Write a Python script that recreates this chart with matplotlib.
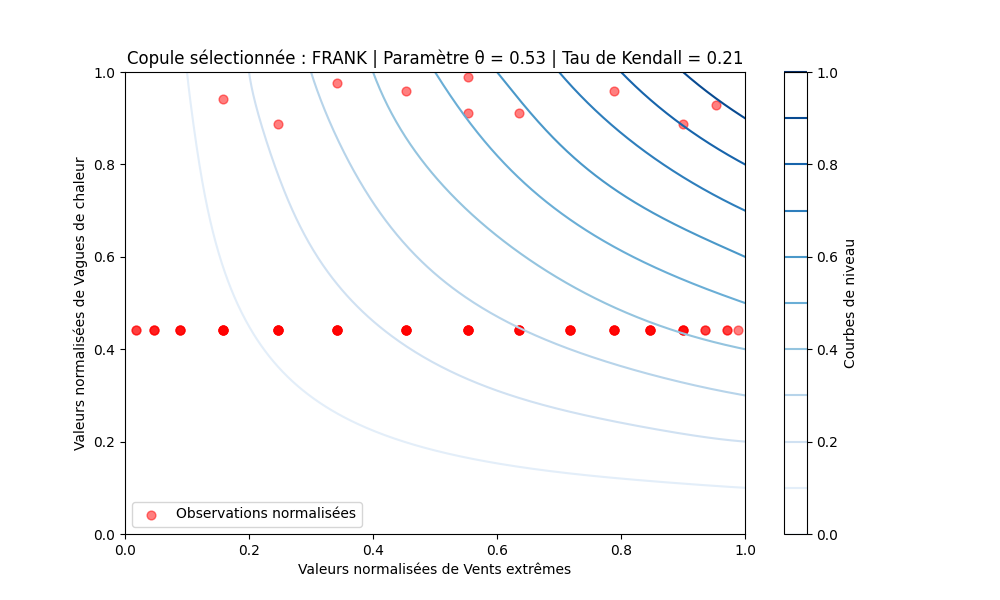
import numpy as np
import matplotlib
matplotlib.use("Agg")
import matplotlib.pyplot as plt
from matplotlib.cm import ScalarMappable
from matplotlib.colors import Normalize

# Observations: x value, y value, stacked count
upper_x = [0.158, 0.247, 0.342, 0.454, 0.554, 0.554, 0.636, 0.789, 0.900, 0.954]
upper_y = [0.941, 0.887, 0.976, 0.958, 0.989, 0.911, 0.911, 0.958, 0.887, 0.929]
row_x = [0.018, 0.047, 0.089, 0.158, 0.247, 0.342, 0.454, 0.554, 0.636, 0.718,
         0.789, 0.847, 0.900, 0.936, 0.971, 0.989]
row_count = [2, 3, 4, 6, 6, 6, 6, 6, 5, 5, 5, 5, 4, 2, 2, 1]
row_y = 0.441

# Contour levels, each curve
levels = [0.0, 0.1, 0.2, 0.3, 0.4, 0.5, 0.6, 0.7, 0.8, 0.9, 1.0]
level_01_x = [0.100, 0.108, 0.117, 0.127, 0.140, 0.153, 0.169, 0.184, 0.202, 0.229, 0.266, 0.299, 0.337, 0.387, 0.445, 0.496, 0.535, 0.597, 0.665, 0.747, 0.824, 0.911, 1.000]
level_01_y = [1.000, 0.911, 0.824, 0.747, 0.665, 0.597, 0.535, 0.496, 0.445, 0.387, 0.337, 0.299, 0.266, 0.229, 0.202, 0.184, 0.169, 0.153, 0.140, 0.127, 0.117, 0.108, 0.100]
level_02_x = [0.200, 0.213, 0.232, 0.256, 0.280, 0.312, 0.354, 0.390, 0.429, 0.474, 0.521, 0.597, 0.672, 0.747, 0.833, 0.919, 1.000]
level_02_y = [1.000, 0.919, 0.833, 0.747, 0.672, 0.597, 0.521, 0.474, 0.429, 0.390, 0.354, 0.312, 0.280, 0.256, 0.232, 0.213, 0.200]
level_03_x = [0.300, 0.323, 0.354, 0.387, 0.419, 0.452, 0.489, 0.530, 0.575, 0.629, 0.683, 0.745, 0.820, 0.918, 1.000]
level_03_y = [1.000, 0.918, 0.820, 0.745, 0.683, 0.629, 0.575, 0.530, 0.489, 0.452, 0.419, 0.387, 0.354, 0.323, 0.300]
level_04_x = [0.400, 0.425, 0.457, 0.489, 0.521, 0.554, 0.620, 0.701, 0.746, 0.788, 0.849, 0.925, 1.000]
level_04_y = [1.000, 0.925, 0.849, 0.788, 0.746, 0.701, 0.620, 0.554, 0.521, 0.489, 0.457, 0.425, 0.400]
level_05_x = [0.500, 0.532, 0.570, 0.612, 0.656, 0.700, 0.746, 0.799, 0.867, 0.936, 1.000]
level_05_y = [1.000, 0.936, 0.867, 0.799, 0.746, 0.700, 0.656, 0.612, 0.570, 0.532, 0.500]
level_06_x = [0.600, 0.615, 0.667, 0.720, 0.768, 0.820, 0.889, 0.979, 1.000]
level_06_y = [1.000, 0.979, 0.889, 0.820, 0.768, 0.720, 0.667, 0.615, 0.600]
level_07_x = [0.700, 0.753, 0.801, 0.833, 0.867, 0.925, 1.000]
level_07_y = [1.000, 0.925, 0.867, 0.833, 0.801, 0.753, 0.700]
level_08_x = [0.800, 0.847, 0.890, 0.943, 1.000]
level_08_y = [1.000, 0.943, 0.890, 0.847, 0.800]
level_09_x = [0.900, 0.949, 1.000]
level_09_y = [1.000, 0.947, 0.900]
curves = {0.1: (level_01_x, level_01_y), 0.2: (level_02_x, level_02_y),
          0.3: (level_03_x, level_03_y), 0.4: (level_04_x, level_04_y),
          0.5: (level_05_x, level_05_y), 0.6: (level_06_x, level_06_y),
          0.7: (level_07_x, level_07_y), 0.8: (level_08_x, level_08_y),
          0.9: (level_09_x, level_09_y)}

title = "Copule sélectionnée : FRANK | Paramètre θ = 0.53 | Tau de Kendall = 0.21"
x_label = "Valeurs normalisées de Vents extrêmes"
y_label = "Valeurs normalisées de Vagues de chaleur"
cbar_label = "Courbes de niveau"
legend_label = "Observations normalisées"


def smoothed(xs, ys):
    """Least-squares smoothing of the hand-read points along the anti-diagonal."""
    xs, ys = np.asarray(xs), np.asarray(ys)
    along = xs - ys
    across = xs + ys
    half = along.max()
    terms = max(2, min(6, (len(xs) + 3) // 4))
    basis = np.column_stack([(along / half) ** (2 * k) for k in range(terms)])
    weight = np.where(np.abs(along) == half, 30.0, 1.0)
    coef = np.linalg.lstsq(basis * weight[:, None], across * weight, rcond=None)[0]
    fine = np.linspace(-half, half, 400)
    fine_basis = np.column_stack([(fine / half) ** (2 * k) for k in range(terms)])
    fine_across = fine_basis @ coef
    return (fine_across + fine) / 2, (fine_across - fine) / 2


fig, ax = plt.subplots(figsize=(10, 6), dpi=100)
norm = Normalize(0, 1)
cmap = plt.get_cmap("Blues")

for level, (xs, ys) in curves.items():
    sx, sy = smoothed(xs, ys)
    ax.plot(sx, sy, color=cmap(norm(level)), linewidth=1.5, zorder=2)

ax.scatter(upper_x + list(np.repeat(row_x, row_count)),
           upper_y + [row_y] * sum(row_count),
           color="red", alpha=0.5, s=40, label=legend_label)

ax.set_xlim(0, 1)
ax.set_ylim(0, 1)
ax.set_title(title)
ax.set_xlabel(x_label)
ax.set_ylabel(y_label)
ax.legend(loc="lower left")

sm = ScalarMappable(norm=norm, cmap=cmap)
cbar = fig.colorbar(sm, ax=ax, label=cbar_label)
cbar.solids.set_visible(False)
cbar.add_lines(levels, [cmap(norm(v)) for v in levels], [1.5] * len(levels))

fig.savefig("out.png", dpi=100)
